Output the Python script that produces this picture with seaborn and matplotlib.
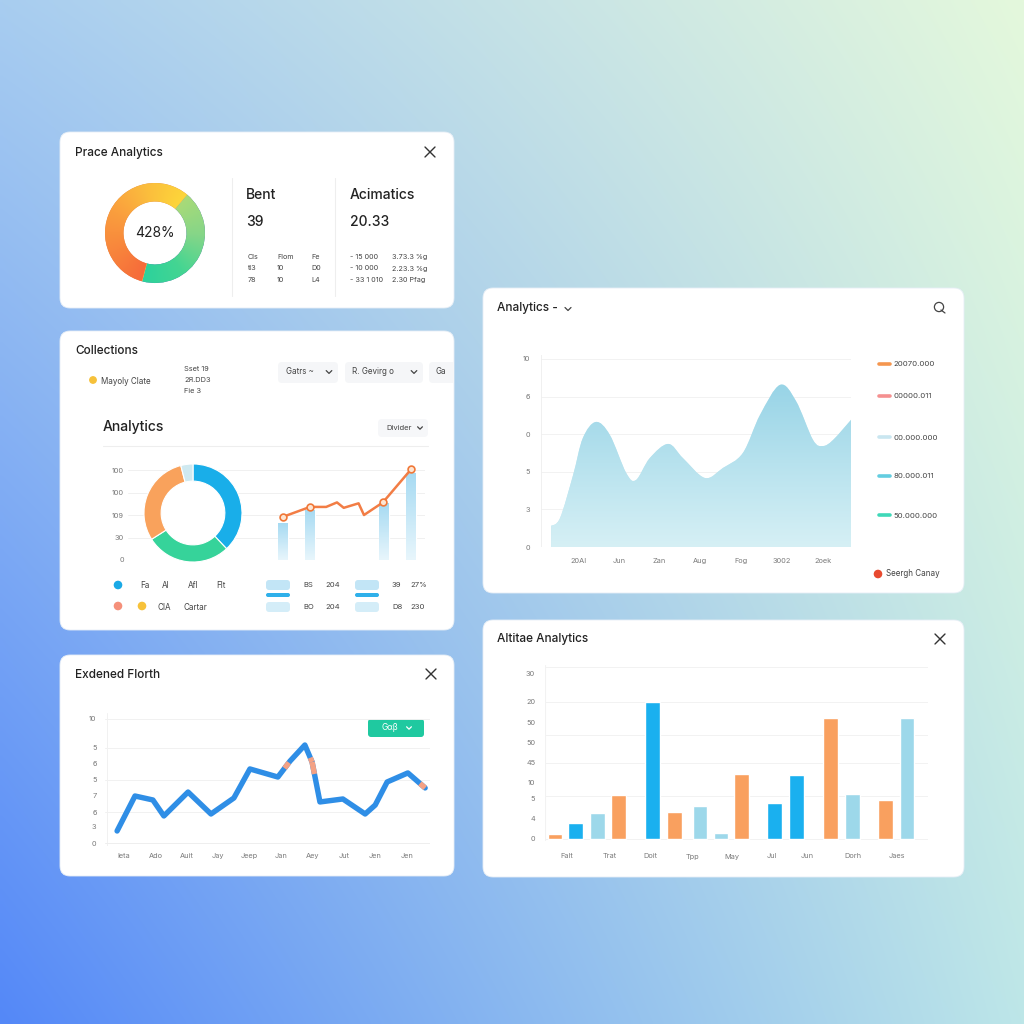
import numpy as np
import matplotlib
matplotlib.use("Agg")
import matplotlib.pyplot as plt
import seaborn as sns
from matplotlib.patches import FancyBboxPatch, Circle, PathPatch
from matplotlib.path import Path
from matplotlib.colors import LinearSegmentedColormap, to_rgb

# ---------------- data ----------------
# Card A : Prace Analytics
price_title = "Prace Analytics"
price_donut_values = [43, 57]          # green part, warm part
price_center_label = "428%"
bent_title, bent_value = "Bent", "39"
bent_table = [["Cls", "Flom", "Fe"], ["tl3", "10", "D0"], ["78", "10", "L4"]]
acim_title, acim_value = "Acimatics", "20.33"
acim_table = [["- 15 000", "3.73.3 %g"], ["- 10 000", "2.23.3 %g"], ["- 33 1 010", "2.30 Pfag"]]

# Card B : Collections
coll_title = "Collections"
coll_donut_values = [38, 28, 30, 4]
coll_donut_colors = ["#19aee9", "#36d39a", "#f9a25c", "#cfe9f0"]
coll_bar_x = [0, 1, 3.75, 4.75]
coll_bar_values = [41, 56, 63, 97]
coll_line_x = [0, 1, 1.6, 2, 2.25, 2.8, 3, 3.7, 4.75]
coll_line_values = [48, 59, 59, 64, 58, 63, 50, 64, 101]
coll_marker_idx = [0, 1, 7, 8]
coll_yticks = [0, 25, 50, 75, 100]
coll_yticklabels = ["0", "30", "109", "100", "100"]

# Card C : Exdened Florth
ext_title = "Exdened Florth"
ext_x = [-0.22, 0.35, 0.92, 1.27, 2.04, 2.77, 3.5, 4.01, 4.9, 5.29, 5.76, 5.99,
         6.24, 6.97, 7.68, 8.0, 8.38, 9.04, 9.59]
ext_values = [0.97, 3.79, 3.47, 2.18, 4.11, 2.34, 3.63, 5.97, 5.32, 6.61, 7.90, 6.53,
              3.31, 3.55, 2.34, 3.06, 4.92, 5.65, 4.44]
ext_xticklabels = ["Ieta", "Ado", "Auit", "Jay", "Jeep", "Jan", "Aey", "Jut", "Jen", "Jen"]
ext_yticks = [0, 1.37, 2.5, 3.87, 5.08, 6.37, 7.66, 10]
ext_yticklabels = ["0", "3", "6", "7", "5", "6", "5", "10"]
ext_grid = [2.5, 5.08, 7.66, 10]

# Card D : Analytics area
area_title = "Analytics -"
area_x = [-0.66, -0.44, -0.12, 0.12, 0.44, 0.78, 1.18, 1.42, 1.76, 2.21, 2.57, 3.11,
          3.55, 4.04, 4.46, 4.95, 5.34, 5.76, 6.0, 6.25, 6.69]
area_values = [1.12, 1.54, 3.83, 5.80, 6.65, 5.96, 3.94, 3.56, 4.73, 5.48, 4.73, 3.67,
               4.20, 5.00, 7.02, 8.62, 7.77, 5.69, 5.37, 5.69, 6.76]
area_xticklabels = ["20AI", "Jun", "Zan", "Aug", "Fog", "3002", "2oek"]
area_yticks = [0, 2, 4, 6, 8, 10]
area_yticklabels = ["0", "3", "5", "0", "6", "10"]
area_legend_labels = ["20070.000", "00000.011", "00.000.000", "80.000.011", "50.000.000"]
area_legend_colors = ["#f5964f", "#f59090", "#c9e6f0", "#63cde0", "#3fd8b8"]
area_footer = "Seergh Canay"

# Card E : Altitae Analytics bars
bars_title = "Altitae Analytics"
bar_x = [0, 0.94, 1.94, 2.9, 4.45, 5.46, 6.62, 7.58, 8.52, 10.02, 11.03, 12.58, 13.58, 15.09, 16.07]
bar_values = [0.87, 2.79, 4.54, 7.67, 23.9, 4.71, 5.76, 1.05, 11.34, 6.28, 11.16, 21.1, 7.85, 6.8, 21.1]
bar_series = ["o", "b", "l", "o", "b", "o", "l", "l", "o", "b", "b", "o", "l", "o", "l"]
bar_palette = {"o": "#f9a05f", "b": "#1ab0ef", "l": "#9dd8ea"}
bar_xtick_pos = [0.55, 2.5, 4.34, 6.26, 8.08, 9.9, 11.5, 13.6, 15.6]
bar_xticklabels = ["Falt", "Trat", "Doit", "Tpp", "May", "Jul", "Jun", "Dorh", "Jaes"]
bar_ytick_pos = [0, 3.66, 7.15, 9.94, 13.26, 16.9, 20.4, 23.9, 28.95]
bar_yticklabels = ["0", "4", "5", "10", "45", "50", "50", "20", "30"]
bar_grid = [0, 7.5, 13.26, 18.1, 23.9, 30]

# ---------------- setup ----------------
sns.set_theme(style="white")
plt.rcParams["font.family"] = ["Inter", "DejaVu Sans"]
W = H = 1024
fig = plt.figure(figsize=(10.24, 10.24), dpi=100)

TXT = "#222222"
TICK = "#7a7a7a"


def add_ax(x0, y0, x1, y1):
    a = fig.add_axes([x0 / W, 1 - y1 / H, (x1 - x0) / W, (y1 - y0) / H])
    a.patch.set_alpha(0)
    return a


# background gradient
bg = fig.add_axes([0, 0, 1, 1])
tl, tr = np.array(to_rgb("#a8cdf0")), np.array(to_rgb("#e4f8dc"))
bl, br = np.array(to_rgb("#5488f8")), np.array(to_rgb("#bde6e8"))
u = np.linspace(0, 1, 256)[None, :, None]
v = np.linspace(0, 1, 256)[:, None, None]
img = (1 - v) * ((1 - u) * tl + u * tr) + v * ((1 - u) * bl + u * br)
bg.imshow(img, extent=[0, W, H, 0], aspect="auto", interpolation="bilinear")
bg.set_xlim(0, W)
bg.set_ylim(H, 0)
bg.axis("off")


def card(x0, y0, x1, y1):
    p = FancyBboxPatch((x0, y0), x1 - x0, y1 - y0, boxstyle="round,pad=0,rounding_size=10",
                       fc="white", ec="#e6eef6", lw=0.6, zorder=2)
    bg.add_patch(p)
    return p


def txt(x, y, s, size=6, color=TXT, ha="left", weight="normal", **kw):
    return bg.text(x, y, s, fontsize=size, color=color, ha=ha, va="center",
                   fontweight=weight, zorder=5, **kw)


def close_x(x, y, s=5):
    bg.plot([x - s, x + s], [y - s, y + s], color="#333333", lw=1.0, zorder=5)
    bg.plot([x - s, x + s], [y + s, y - s], color="#333333", lw=1.0, zorder=5)


def chevron(x, y, s=2.8, color="#444444"):
    bg.plot([x - s, x, x + s], [y - s * 0.5, y + s * 0.5, y - s * 0.5], color=color, lw=0.9,
            zorder=6, solid_capstyle="round")


def pill(x0, y0, x1, y1, fc, r=4, clip=None):
    p = FancyBboxPatch((x0, y0), x1 - x0, y1 - y0, boxstyle=f"round,pad=0,rounding_size={r}",
                       fc=fc, ec="none", zorder=3)
    bg.add_patch(p)
    if clip is not None:
        p.set_clip_path(clip)
    return p


TW = "medium"

# ---------------- Card A ----------------
card(60, 132, 454, 308)
txt(75, 153, price_title, 8.5, weight=TW)
close_x(430, 152)
bg.plot([232, 232], [178, 296], color="#eeeeee", lw=0.8, zorder=3)
bg.plot([335, 335], [178, 296], color="#eeeeee", lw=0.8, zorder=3)
txt(246, 195, bent_title, 10, weight=TW)
txt(246, 222, bent_value, 10, weight=TW)
for r, row in enumerate(bent_table):
    for c, s in enumerate(row):
        txt([248, 277, 311][c], 257 + r * 11.5, s, 5.2, "#444444")
txt(350, 195, acim_title, 10, weight=TW)
txt(350, 222, acim_value, 10, weight=TW)
for r, row in enumerate(acim_table):
    for c, s in enumerate(row):
        txt([350, 392][c], 257 + r * 11.5, s, 5.2, "#444444")

axA = add_ax(104, 182, 206, 284)
wedgesA, _ = axA.pie(price_donut_values, startangle=50, counterclock=False, radius=1,
                     wedgeprops=dict(width=0.37, edgecolor="none"))
n = 300
xs = np.linspace(-1, 1, n)
X, Y = np.meshgrid(xs, xs)
theta = np.degrees(np.arctan2(Y, X))
cm_green = LinearSegmentedColormap.from_list("g", ["#a9da78", "#86d688", "#45d592", "#2cd29c"])
cm_warm = LinearSegmentedColormap.from_list("w", ["#f66a3a", "#f8853c", "#fa9e3e", "#fbbd3d", "#fdd63a"])
tg = np.clip((50 - theta) / 155, 0, 1)
th2 = np.where(theta < -105, theta + 360, theta)
tw = np.clip((255 - th2) / 205, 0, 1)
for wdg, im_arr in zip(wedgesA, [cm_green(tg), cm_warm(tw)]):
    im = axA.imshow(im_arr, extent=[-1, 1, -1, 1], origin="lower", interpolation="bilinear",
                    zorder=3)
    im.set_clip_path(wdg)
axA.set_xlim(-1.02, 1.02)
axA.set_ylim(-1.02, 1.02)
axA.set_aspect("equal")
axA.axis("off")
axA.text(0, 0, price_center_label, ha="center", va="center", fontsize=10, color=TXT, zorder=5)

# ---------------- Card B ----------------
cardB = card(60, 331, 454, 630)
txt(75, 351, coll_title, 8.5, weight=TW)
bg.add_patch(Circle((93, 380), 3.2, color="#f6c13a", zorder=4))
txt(101, 381, "Mayoly Clate", 5.8, "#444444")
for i, s in enumerate(["Sset 19", "2Я.DD3", "Fie 3"]):
    txt(184, 369 + i * 11, s, 5.3, "#444444")
pill(278, 362, 338, 383, "#f5f6f8")
txt(286, 372, "Gatrs ~", 5.8, "#444444")
chevron(329, 372)
pill(345, 362, 423, 383, "#f5f6f8")
txt(352, 372, "R. Gevirg o", 5.8, "#444444")
chevron(414, 372)
pill(429, 362, 470, 383, "#f5f6f8", clip=cardB)
t = txt(436, 372, "Ga", 5.8, "#444444")
t.set_clip_path(cardB)
txt(103, 427, "Analytics", 10, weight=TW)
pill(378, 419, 428, 437, "#f6f7f9")
txt(386, 428, "Divider", 5.5, "#444444")
chevron(420, 428, 2.4)
bg.plot([103, 428], [446, 446], color="#eeeeee", lw=0.8, zorder=3)

# legend at bottom of card B
bg.add_patch(Circle((118, 585), 3.6, color="#1aa9e6", zorder=4))
for x, s in zip([140, 162, 188, 216], ["Fa", "Al", "Afl", "Flt"]):
    txt(x, 585, s, 5.8, "#444444")
bg.add_patch(Circle((118, 606), 3.6, color="#f5907a", zorder=4))
bg.add_patch(Circle((142, 606), 3.6, color="#f7c23a", zorder=4))
txt(158, 607, "CIA", 5.8, "#444444")
txt(183, 607, "Cartar", 5.8, "#444444")
for x0 in [266, 355]:
    pill(x0, 580, x0 + 24, 590, "#c2e5f6", r=3)
    pill(x0, 593, x0 + 24, 597, "#2fb0ea", r=2)
    pill(x0, 602, x0 + 24, 612, "#d4edf8", r=3)
for x, y, s in [(303, 585, "BS"), (325, 585, "204"), (392, 585, "39"), (410, 585, "27%"),
                (303, 607, "BO"), (325, 607, "204"), (392, 607, "D8"), (410, 607, "230")]:
    txt(x, y, s, 5.5, "#444444")

axC = add_ax(128, 465, 425, 560)
for g in coll_yticks:
    axC.axhline(g, color="#f0f0f0", lw=0.7, zorder=0)
bw = 10 / 27
cm_bar = LinearSegmentedColormap.from_list("bb", ["#e8f6fc", "#a6daf2"])
grad = np.linspace(0, 1, 128).reshape(-1, 1)
bars = axC.bar(coll_bar_x, coll_bar_values, width=bw, color="#bfe6f7", zorder=2)
for b, x, h in zip(bars, coll_bar_x, coll_bar_values):
    im = axC.imshow(grad, extent=[x - bw / 2, x + bw / 2, 0, h], origin="lower", aspect="auto",
                    cmap=cm_bar, zorder=2.5)
    im.set_clip_path(b)
sns.lineplot(x=coll_line_x, y=coll_line_values, ax=axC, color="#f27d45", lw=1.8, sort=False,
             zorder=4)
axC.scatter([coll_line_x[i] for i in coll_marker_idx], [coll_line_values[i] for i in coll_marker_idx],
            s=24, facecolor="#fde5d2", edgecolor="#f07838", linewidth=1.2, zorder=5)
axC.set_xlim(-5.74, 5.26)
axC.set_ylim(0, 105.6)
axC.set_yticks(coll_yticks)
axC.set_yticklabels(coll_yticklabels)
axC.set_xticks([])
axC.tick_params(axis="y", length=0, labelsize=5.3, labelcolor=TICK, pad=3)
sns.despine(ax=axC, left=True, bottom=True)

axB = add_ax(143, 463, 243, 563)
axB.add_patch(Circle((0, 0), 0.66, color="white", zorder=0))
axB.pie(coll_donut_values, colors=coll_donut_colors, startangle=90, counterclock=False,
        wedgeprops=dict(width=0.35, edgecolor="white", linewidth=0.8))
axB.set_xlim(-1.02, 1.02)
axB.set_ylim(-1.02, 1.02)
axB.set_aspect("equal")
axB.axis("off")

# ---------------- Card C ----------------
card(60, 655, 454, 876)
txt(75, 675, ext_title, 8.5, weight=TW)
close_x(431, 674)
axE = add_ax(105, 713, 430, 846)
for g in ext_grid:
    axE.axhline(g, color="#f1f1f1", lw=0.7, zorder=0)
axE.axvline(-0.55, color="#f1f1f1", lw=0.7, zorder=0)
axE.axhline(0, color="#eeeeee", lw=0.7, zorder=0)
sns.lineplot(x=ext_x, y=ext_values, ax=axE, color="#2f8ee6", lw=3.9, sort=False,
             solid_joinstyle="round", solid_capstyle="round", zorder=3)


def seg(i, f0, f1):
    xa, xb = ext_x[i], ext_x[i + 1]
    ya, yb = ext_values[i], ext_values[i + 1]
    axE.plot([xa + (xb - xa) * f0, xa + (xb - xa) * f1], [ya + (yb - ya) * f0, ya + (yb - ya) * f1],
             color="#f4a184", lw=3.9, solid_capstyle="butt", zorder=4)


seg(8, 0.55, 0.9)
seg(10, 0.75, 1.0)
seg(11, 0.0, 0.3)
seg(17, 0.7, 1.0)
axE.set_xlim(-0.605, 9.745)
axE.set_ylim(-0.24, 10.48)
axE.set_xticks(range(len(ext_xticklabels)))
axE.set_xticklabels(ext_xticklabels)
axE.set_yticks(ext_yticks)
axE.set_yticklabels(ext_yticklabels)
axE.tick_params(length=0, labelsize=5.3, labelcolor=TICK)
axE.tick_params(axis="x", pad=5)
axE.tick_params(axis="y", pad=6)
sns.despine(ax=axE, left=True, bottom=True)
pill(368, 719, 424, 737, "#1fc9a0", r=3)
txt(381, 728, "Gαβ", 6, "white")
chevron(409, 728, 2.4, "white")

# ---------------- Card D ----------------
card(483, 288, 964, 593)
txt(497, 308, area_title, 8.5, weight=TW)
chevron(568, 309, 3)
bg.add_patch(Circle((939, 307), 4.6, fc="none", ec="#444444", lw=0.9, zorder=5))
bg.plot([941, 945], [310, 313], color="#444444", lw=0.9, zorder=5)
axD = add_ax(541, 355, 851, 547)
for g in area_yticks[1:]:
    axD.axhline(g, color="#f2f2f2", lw=0.7, zorder=0)
axD.axvline(-0.907, color="#eeeeee", lw=1.2, zorder=0)

# smooth (Catmull-Rom -> Bezier) outline through the read points
P = np.column_stack([area_x, area_values])
Pe = np.vstack([P[0], P, P[-1]])
verts = [(P[0, 0], 0.0), tuple(P[0])]
codes = [Path.MOVETO, Path.LINETO]
for i in range(len(P) - 1):
    p0, p1, p2, p3 = Pe[i], Pe[i + 1], Pe[i + 2], Pe[i + 3]
    c1 = p1 + (p2 - p0) / 6.0
    c2 = p2 - (p3 - p1) / 6.0
    verts += [tuple(c1), tuple(c2), tuple(p2)]
    codes += [Path.CURVE4] * 3
verts += [(P[-1, 0], 0.0), (P[0, 0], 0.0)]
codes += [Path.LINETO, Path.CLOSEPOLY]
area_patch = PathPatch(Path(verts, codes), fc="#c4e8f1", ec="none", zorder=1)
axD.add_patch(area_patch)
cm_area = LinearSegmentedColormap.from_list("ar", ["#d6f0f5", "#b7e2ee", "#96d3e6"])
im = axD.imshow(np.linspace(0, 1, 256).reshape(-1, 1), extent=[-1, 7, 0, 8.9], origin="lower",
                aspect="auto", cmap=cm_area, zorder=2)
im.set_clip_path(area_patch)
axD.set_xlim(-0.907, 6.69)
axD.set_ylim(0, 10.21)
axD.set_xticks(range(len(area_xticklabels)))
axD.set_xticklabels(area_xticklabels)
axD.set_yticks(area_yticks)
axD.set_yticklabels(area_yticklabels)
axD.tick_params(length=0, labelsize=5.3, labelcolor=TICK)
axD.tick_params(axis="x", pad=8)
axD.tick_params(axis="y", pad=8)
sns.despine(ax=axD, left=True, bottom=True)
for y, lab, col in zip([364, 396, 437, 476, 515], area_legend_labels, area_legend_colors):
    bg.plot([879, 890], [y, y], color=col, lw=2.6, solid_capstyle="round", zorder=5)
    txt(893, y + 0.5, lab, 5.6, "#444444")
bg.add_patch(Circle((878, 574), 3.6, color="#e84a30", zorder=5))
txt(886, 574, area_footer, 5.8, "#444444")

# ---------------- Card E ----------------
card(483, 620, 964, 877)
txt(497, 639, bars_title, 8.5, weight=TW)
close_x(940, 639)
axF = add_ax(545, 665, 928, 841)
for g in bar_grid:
    axF.axhline(g, color="#f2f2f2", lw=0.7, zorder=0)
axF.axvline(-0.457, color="#f2f2f2", lw=0.8, zorder=0)
axF.bar(bar_x, bar_values, width=0.68, color=[bar_palette[s] for s in bar_series], zorder=2)
axF.set_xlim(-0.457, 17.03)
axF.set_ylim(-0.35, 30.35)
axF.set_xticks(bar_xtick_pos)
axF.set_xticklabels(bar_xticklabels)
axF.set_yticks(bar_ytick_pos)
axF.set_yticklabels(bar_yticklabels)
axF.tick_params(length=0, labelsize=5.3, labelcolor=TICK)
axF.tick_params(axis="x", pad=9)
axF.tick_params(axis="y", pad=7)
sns.despine(ax=axF, left=True, bottom=True)

fig.savefig("out.png", dpi=100)
